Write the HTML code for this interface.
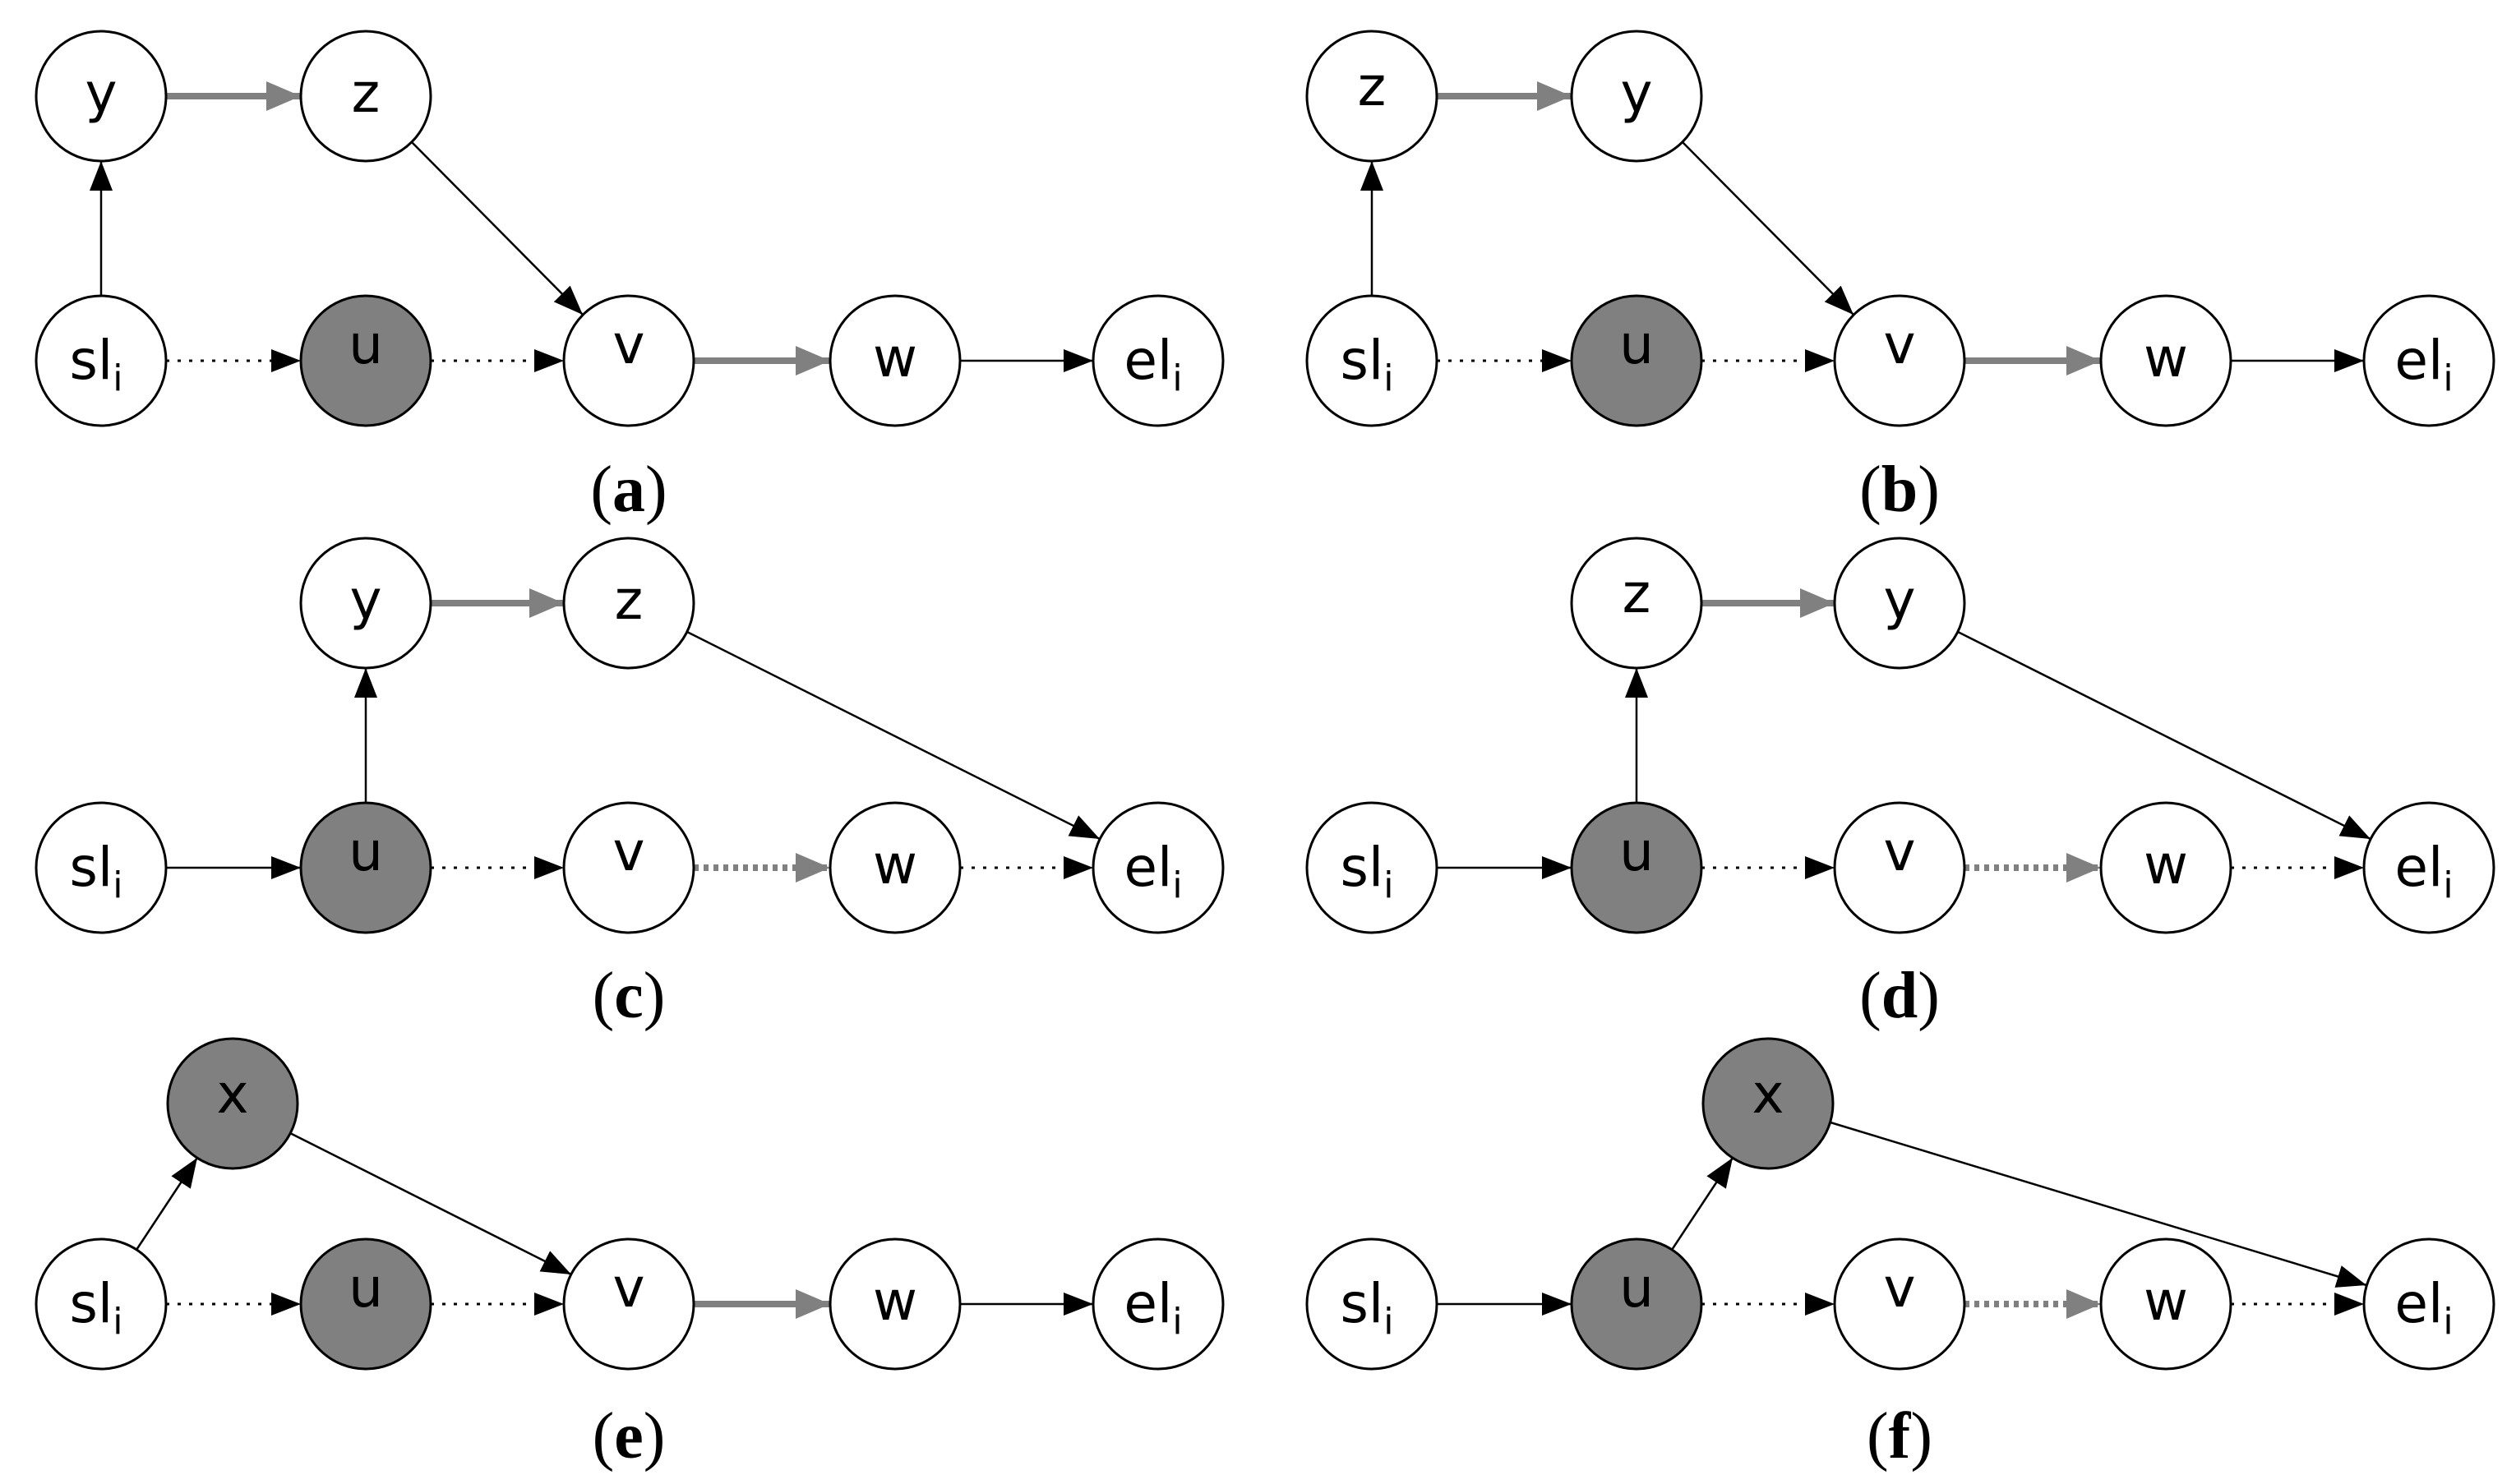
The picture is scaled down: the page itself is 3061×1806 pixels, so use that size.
<!DOCTYPE html>
<html><head><meta charset="utf-8"><style>
html,body{margin:0;padding:0;background:#fff;}
svg{display:block;}
.n{fill:#fff;stroke:#000;stroke-width:3;}
.g{fill:#808080;stroke:#000;stroke-width:3;}
.t{font-family:"DejaVu Sans","Liberation Sans",sans-serif;font-size:66px;text-anchor:middle;fill:#000;}
.s{font-size:44px;}
.cap{font-family:"Liberation Serif",serif;font-size:80px;text-anchor:middle;fill:#000;}
.k{stroke:#000;stroke-width:2.5;fill:none;marker-end:url(#ab);}
.kd{stroke:#000;stroke-width:3;fill:none;stroke-dasharray:4 10;marker-end:url(#ab);}
.gr{stroke:#808080;stroke-width:8;fill:none;marker-end:url(#ag);}
.grd{stroke:#808080;stroke-width:8;fill:none;stroke-dasharray:6 6;marker-end:url(#ag);}
</style></head><body>
<svg width="3061" height="1806" viewBox="0 0 3061 1806" xmlns="http://www.w3.org/2000/svg">
<defs>
<marker id="ab" markerUnits="userSpaceOnUse" markerWidth="38" markerHeight="28" refX="36" refY="14" orient="auto"><path d="M0,0 L36,14 L0,28 Z" fill="#000"/></marker>
<marker id="ag" markerUnits="userSpaceOnUse" markerWidth="44" markerHeight="36" refX="42" refY="18" orient="auto"><path d="M0,0 L42,18 L0,36 Z" fill="#808080"/></marker>
<g id="sl"><circle class="n" cx="0" cy="0" r="79"/><text class="t" x="-6" y="22">sl<tspan class="s" dy="14">i</tspan></text></g>
<g id="el"><circle class="n" cx="0" cy="0" r="79"/><text class="t" x="-6" y="22">el<tspan class="s" dy="14">i</tspan></text></g>
</defs>

<!-- (a) -->
<g>
<line class="k" x1="123" y1="360" x2="123" y2="196"/>
<line class="gr" x1="202" y1="117" x2="366" y2="117"/>
<line class="k" x1="501" y1="173" x2="709" y2="383"/>
<line class="kd" x1="202" y1="439" x2="366" y2="439"/>
<line class="kd" x1="524" y1="439" x2="686" y2="439"/>
<line class="gr" x1="844" y1="439" x2="1010" y2="439"/>
<line class="k" x1="1168" y1="439" x2="1330" y2="439"/>
<circle class="n" cx="123" cy="117" r="79"/><text class="t" x="123" y="136">y</text>
<circle class="n" cx="445" cy="117" r="79"/><text class="t" x="445" y="136">z</text>
<use href="#sl" x="123" y="439"/>
<circle class="g" cx="445" cy="439" r="79"/><text class="t" x="445" y="442">u</text>
<circle class="n" cx="765" cy="439" r="79"/><text class="t" x="765" y="442">v</text>
<circle class="n" cx="1089" cy="439" r="79"/><text class="t" x="1089" y="458">w</text>
<use href="#el" x="1409" y="439"/>
<text class="cap" x="765" y="622">(<tspan font-weight="bold">a</tspan>)</text>
</g>

<!-- (b) -->
<g transform="translate(1546,0)">
<line class="k" x1="123" y1="360" x2="123" y2="196"/>
<line class="gr" x1="202" y1="117" x2="366" y2="117"/>
<line class="k" x1="501" y1="173" x2="709" y2="383"/>
<line class="kd" x1="202" y1="439" x2="366" y2="439"/>
<line class="kd" x1="524" y1="439" x2="686" y2="439"/>
<line class="gr" x1="844" y1="439" x2="1010" y2="439"/>
<line class="k" x1="1168" y1="439" x2="1330" y2="439"/>
<circle class="n" cx="123" cy="117" r="79"/><text class="t" x="123" y="128">z</text>
<circle class="n" cx="445" cy="117" r="79"/><text class="t" x="445" y="136">y</text>
<use href="#sl" x="123" y="439"/>
<circle class="g" cx="445" cy="439" r="79"/><text class="t" x="445" y="442">u</text>
<circle class="n" cx="765" cy="439" r="79"/><text class="t" x="765" y="442">v</text>
<circle class="n" cx="1089" cy="439" r="79"/><text class="t" x="1089" y="458">w</text>
<use href="#el" x="1409" y="439"/>
<text class="cap" x="765" y="622">(<tspan font-weight="bold">b</tspan>)</text>
</g>

<!-- (c) -->
<g>
<line class="k" x1="445" y1="977" x2="445" y2="813"/>
<line class="gr" x1="524" y1="734" x2="686" y2="734"/>
<line class="k" x1="836" y1="769" x2="1338" y2="1021"/>
<line class="k" x1="202" y1="1056" x2="366" y2="1056"/>
<line class="kd" x1="524" y1="1056" x2="686" y2="1056"/>
<line class="grd" x1="844" y1="1056" x2="1010" y2="1056"/>
<line class="kd" x1="1168" y1="1056" x2="1330" y2="1056"/>
<circle class="n" cx="445" cy="734" r="79"/><text class="t" x="445" y="753">y</text>
<circle class="n" cx="765" cy="734" r="79"/><text class="t" x="765" y="753">z</text>
<use href="#sl" x="123" y="1056"/>
<circle class="g" cx="445" cy="1056" r="79"/><text class="t" x="445" y="1059">u</text>
<circle class="n" cx="765" cy="1056" r="79"/><text class="t" x="765" y="1059">v</text>
<circle class="n" cx="1089" cy="1056" r="79"/><text class="t" x="1089" y="1075">w</text>
<use href="#el" x="1409" y="1056"/>
<text class="cap" x="765" y="1238">(<tspan font-weight="bold">c</tspan>)</text>
</g>

<!-- (d) -->
<g transform="translate(1546,0)">
<line class="k" x1="445" y1="977" x2="445" y2="813"/>
<line class="gr" x1="524" y1="734" x2="686" y2="734"/>
<line class="k" x1="836" y1="769" x2="1338" y2="1021"/>
<line class="k" x1="202" y1="1056" x2="366" y2="1056"/>
<line class="kd" x1="524" y1="1056" x2="686" y2="1056"/>
<line class="grd" x1="844" y1="1056" x2="1010" y2="1056"/>
<line class="kd" x1="1168" y1="1056" x2="1330" y2="1056"/>
<circle class="n" cx="445" cy="734" r="79"/><text class="t" x="445" y="745">z</text>
<circle class="n" cx="765" cy="734" r="79"/><text class="t" x="765" y="753">y</text>
<use href="#sl" x="123" y="1056"/>
<circle class="g" cx="445" cy="1056" r="79"/><text class="t" x="445" y="1059">u</text>
<circle class="n" cx="765" cy="1056" r="79"/><text class="t" x="765" y="1059">v</text>
<circle class="n" cx="1089" cy="1056" r="79"/><text class="t" x="1089" y="1075">w</text>
<use href="#el" x="1409" y="1056"/>
<text class="cap" x="765" y="1238">(<tspan font-weight="bold">d</tspan>)</text>
</g>

<!-- (e) -->
<g>
<line class="k" x1="166" y1="1521" x2="240" y2="1409"/>
<line class="k" x1="353" y1="1379" x2="695" y2="1551"/>
<line class="kd" x1="202" y1="1587" x2="366" y2="1587"/>
<line class="kd" x1="524" y1="1587" x2="686" y2="1587"/>
<line class="gr" x1="844" y1="1587" x2="1010" y2="1587"/>
<line class="k" x1="1168" y1="1587" x2="1330" y2="1587"/>
<circle class="g" cx="283" cy="1343" r="79"/><text class="t" x="283" y="1354">x</text>
<use href="#sl" x="123" y="1587"/>
<circle class="g" cx="445" cy="1587" r="79"/><text class="t" x="445" y="1590">u</text>
<circle class="n" cx="765" cy="1587" r="79"/><text class="t" x="765" y="1590">v</text>
<circle class="n" cx="1089" cy="1587" r="79"/><text class="t" x="1089" y="1606">w</text>
<use href="#el" x="1409" y="1587"/>
<text class="cap" x="765" y="1774">(<tspan font-weight="bold">e</tspan>)</text>
</g>

<!-- (f) -->
<g transform="translate(1546,0)">
<line class="k" x1="488" y1="1521" x2="562" y2="1409"/>
<line class="k" x1="681" y1="1366" x2="1333" y2="1564"/>
<line class="k" x1="202" y1="1587" x2="366" y2="1587"/>
<line class="kd" x1="524" y1="1587" x2="686" y2="1587"/>
<line class="grd" x1="844" y1="1587" x2="1010" y2="1587"/>
<line class="kd" x1="1168" y1="1587" x2="1330" y2="1587"/>
<circle class="g" cx="605" cy="1343" r="79"/><text class="t" x="605" y="1354">x</text>
<use href="#sl" x="123" y="1587"/>
<circle class="g" cx="445" cy="1587" r="79"/><text class="t" x="445" y="1590">u</text>
<circle class="n" cx="765" cy="1587" r="79"/><text class="t" x="765" y="1590">v</text>
<circle class="n" cx="1089" cy="1587" r="79"/><text class="t" x="1089" y="1606">w</text>
<use href="#el" x="1409" y="1587"/>
<text class="cap" x="765" y="1774">(<tspan font-weight="bold">f</tspan>)</text>
</g>
</svg>
</body></html>
